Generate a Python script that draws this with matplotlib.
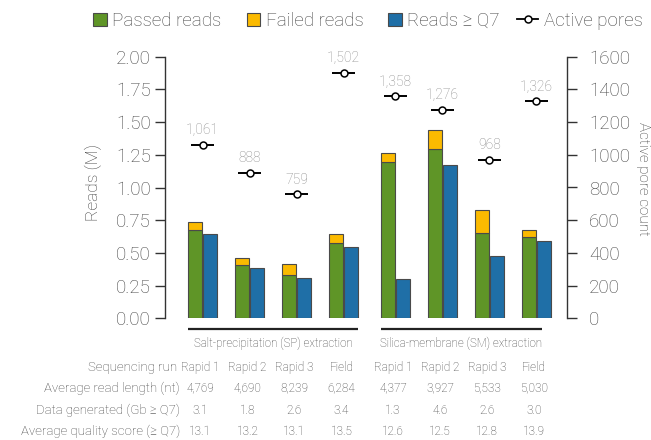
import matplotlib
matplotlib.use("Agg")
import matplotlib.pyplot as plt
import matplotlib.transforms as mtransforms
from matplotlib.patches import Patch, Rectangle
from matplotlib.lines import Line2D
from matplotlib.legend_handler import HandlerPatch
import numpy as np

plt.rcParams['font.family'] = ['Roboto', 'DejaVu Sans']
plt.rcParams['font.weight'] = 'light'

# ---- data ----
runs = ["Rapid 1", "Rapid 2", "Rapid 3", "Field",
        "Rapid 1", "Rapid 2", "Rapid 3", "Field"]
groups = ["Salt-precipitation (SP) extraction", "Silica-membrane (SM) extraction"]
passed_reads = [0.675, 0.407, 0.328, 0.578, 1.193, 1.294, 0.652, 0.619]
total_reads = [0.734, 0.459, 0.415, 0.642, 1.266, 1.440, 0.830, 0.675]
failed_reads = [t - p for t, p in zip(total_reads, passed_reads)]
reads_q7 = [0.642, 0.387, 0.310, 0.545, 0.303, 1.172, 0.476, 0.591]
active_pores = [1061, 888, 759, 1502, 1358, 1276, 968, 1326]
read_length = ["4,769", "4,690", "8,239", "6,284", "4,377", "3,927", "5,533", "5,030"]
data_gb = ["3.1", "1.8", "2.6", "3.4", "1.3", "4.6", "2.6", "3.0"]
quality = ["13.1", "13.2", "13.1", "13.5", "12.6", "12.5", "12.8", "13.9"]
row_labels = ["Sequencing run", "Average read length (nt)",
              "Data generated (Gb \u2265 Q7)", "Average quality score (\u2265 Q7)"]

# ---- style ----
GREEN = "#5f9527"
YELLOW = "#fbba00"
BLUE = "#1f6fa7"
EDGE = "#4a4a4a"
AXIS = "#333333"
TEXT = "#444444"
GREY = "#8a8a8a"

W, H = 651, 440
fig = plt.figure(figsize=(W / 100, H / 100), dpi=100)
ax = fig.add_axes([165 / W, (H - 318.3) / H, (567 - 165) / W, (318.3 - 56.7) / H])
ax2 = ax.twinx()

pos = np.array([0, 1, 2, 3, 4.1, 5.1, 6.1, 7.1])
bw = 0.30
off = 0.16

ax.bar(pos - off, passed_reads, bw, color=GREEN, edgecolor=EDGE, linewidth=0.8, zorder=2)
ax.bar(pos - off, failed_reads, bw, bottom=passed_reads, color=YELLOW,
       edgecolor=EDGE, linewidth=0.8, zorder=2)
ax.bar(pos + off, reads_q7, bw, color=BLUE, edgecolor=EDGE, linewidth=0.8, zorder=2)

ax2.errorbar(pos, active_pores, xerr=0.24, fmt='o', ms=5, mfc='white', mec='black',
             mew=1.1, ecolor='black', elinewidth=1.4, capsize=0, zorder=3)
for x, v in zip(pos, active_pores):
    ax2.annotate(f"{v:,}", (x, v), xytext=(0, 5.5), textcoords='offset points',
                 ha='center', va='bottom', fontsize=10, color=GREY)

ax.set_xlim(-0.802, 7.751)
ax.set_ylim(0, 2)
ax2.set_ylim(0, 1600)
ax.set_yticks(np.arange(0, 2.01, 0.25))
ax.set_yticklabels([f"{v:.2f}" for v in np.arange(0, 2.01, 0.25)])
ax2.set_yticks(np.arange(0, 1601, 200))
ax.set_xticks([])

for a in (ax, ax2):
    for s in ("top", "bottom"):
        a.spines[s].set_visible(False)
    a.spines["left"].set_color(AXIS)
    a.spines["right"].set_color(AXIS)
    a.spines["left"].set_linewidth(1.0)
    a.spines["right"].set_linewidth(1.0)
ax.spines["right"].set_visible(False)
ax2.spines["left"].set_visible(False)

ax.tick_params(axis='y', direction='out', length=7.2, width=1.0, color=AXIS,
               labelsize=13.5, labelcolor=TEXT, pad=3)
ax2.tick_params(axis='y', direction='out', length=7.5, width=1.0, color=AXIS,
                labelsize=13.5, labelcolor=TEXT, pad=8.5)

# axis titles
fig.text(93.5 / W, 1 - 182.5 / H, "Reads (M)", rotation=90, ha='center', va='center',
         fontsize=12.5, color="#3a3a3a")
fig.text(643 / W, 1 - 179 / H, "Active pore count", rotation=270, ha='center', va='center',
         fontsize=11, color="#3a3a3a")

# group brackets under the bars
trans = mtransforms.blended_transform_factory(ax.transData, ax.transAxes)
spans = [(pos[0] - off - bw / 2, pos[3] + off + bw / 2),
         (pos[4] - off - bw / 2, pos[7] + off + bw / 2 - 0.2)]
for (x0, x1), name in zip(spans, groups):
    ax.plot([x0, x1], [-0.041, -0.041], color="#222222", lw=1.6,
            transform=trans, clip_on=False, solid_capstyle='butt')
    ax.text((x0 + x1) / 2, -0.094, name, transform=trans, ha='center', va='center',
            fontsize=8.3, color=TEXT)

# summary table
tfig = mtransforms.blended_transform_factory(ax.transData, fig.transFigure)
row_y = [367.7, 388.3, 410.0, 431.7]
label_right = [177, 180, 180, 180]
rows = [runs, read_length, data_gb, quality]
for label, y, xr, vals in zip(row_labels, row_y, label_right, rows):
    fig.text(xr / W, 1 - y / H, label, ha='right', va='center', fontsize=9.5, color=TEXT)
    for x, v in zip(pos, vals):
        ax.text(x - 0.05, 1 - y / H, v, transform=tfig, ha='center', va='center',
                fontsize=8.5, color=TEXT, clip_on=False)


# legend with square swatches
def square_patch(legend, orig_handle, xdescent, ydescent, width, height, fontsize):
    s = height
    return Rectangle((-xdescent + width - s, -ydescent), s, s)


handles = [Patch(facecolor=GREEN, edgecolor=EDGE, linewidth=0.8),
           Patch(facecolor=YELLOW, edgecolor=EDGE, linewidth=0.8),
           Patch(facecolor=BLUE, edgecolor=EDGE, linewidth=0.8),
           Line2D([], [], color='black', lw=1.3, marker='o', ms=5,
                  mfc='white', mec='black', mew=1.1)]
labels = ["Passed reads", "Failed reads", "Reads \u2265 Q7", "Active pores"]
fig.legend(handles, labels, loc='center', bbox_to_anchor=(364 / W, 1 - 21 / H),
           ncol=4, frameon=False, fontsize=13.5, labelcolor=TEXT,
           handlelength=1.15, handleheight=0.72, handletextpad=0.3,
           columnspacing=0.9, borderpad=0,
           handler_map={Patch: HandlerPatch(patch_func=square_patch)})

fig.savefig("out.png", dpi=100)
